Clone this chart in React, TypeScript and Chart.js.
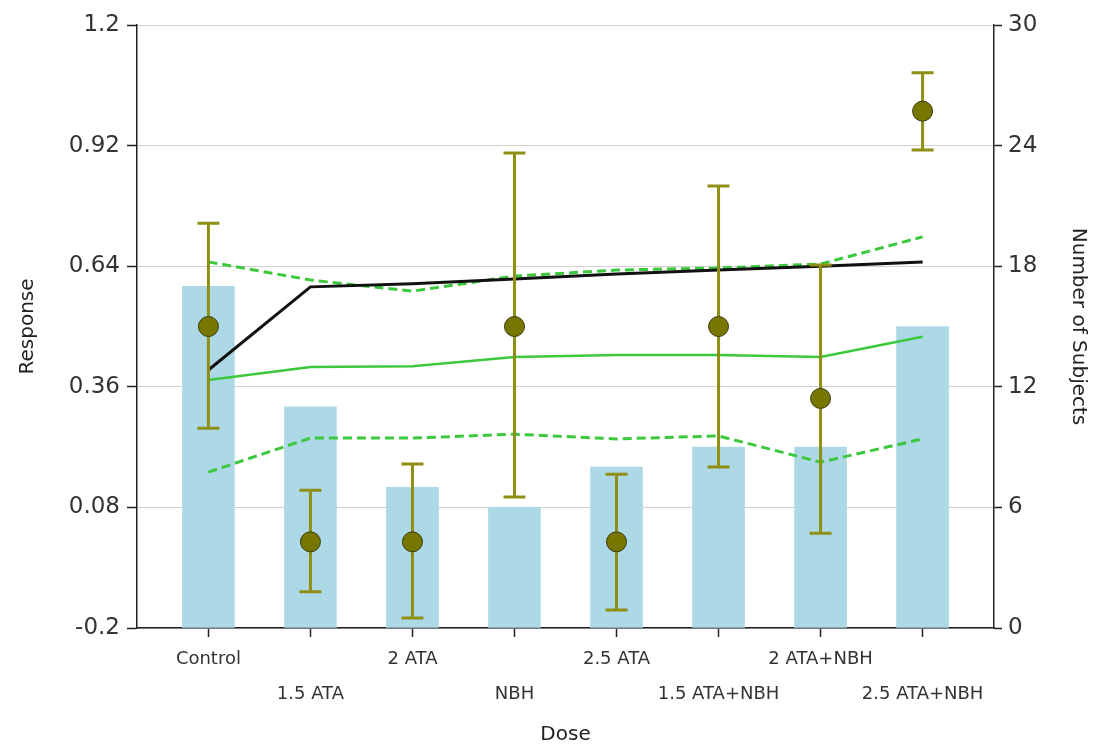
import React, { useEffect, useRef } from "react";
import { Chart, registerables } from "chart.js";

Chart.register(...registerables);

const categories = ["Control", "1.5 ATA", "2 ATA", "NBH", "2.5 ATA", "1.5 ATA+NBH", "2 ATA+NBH", "2.5 ATA+NBH"];
const subjects = [17, 11, 7, 6, 8, 9, 9, 15];
const response = [0.5, 0.0, 0.0, 0.5, 0.0, 0.5, 0.333, 1.0];
const errHigh = [0.74, 0.12, 0.181, 0.903, 0.157, 0.826, 0.643, 1.089];
const errLow = [0.264, -0.116, -0.177, 0.104, -0.158, 0.174, 0.02, 0.91];
const fitLine = [0.399, 0.592, 0.599, 0.61, 0.622, 0.631, 0.64, 0.65];
const greenMid = [0.376, 0.406, 0.408, 0.429, 0.434, 0.434, 0.429, 0.476];
const greenUpper = [0.65, 0.608, 0.582, 0.617, 0.631, 0.636, 0.645, 0.708];
const greenLower = [0.162, 0.241, 0.241, 0.25, 0.239, 0.246, 0.185, 0.239];
const leftTicks = [-0.2, 0.08, 0.36, 0.64, 0.92, 1.2];
const rightTicks = [0, 6, 12, 18, 24, 30];

const FONT = "'DejaVu Sans', Verdana, sans-serif";

const toXY = (arr: number[]) => arr.map((v, i) => ({ x: i, y: v }));

const errorBarPlugin = {
  id: "errorBars",
  beforeDatasetDraw(chart: any, args: any) {
    const ds = chart.data.datasets[args.index];
    if (!ds || ds.label !== "Response") return;
    const ctx = chart.ctx;
    const xs = chart.scales.x;
    const ys = chart.scales.y;
    ctx.save();
    ctx.strokeStyle = "#8f8f14";
    ctx.lineWidth = 3;
    const cap = 11;
    for (let i = 0; i < categories.length; i++) {
      const px = xs.getPixelForValue(i);
      const top = ys.getPixelForValue(errHigh[i]);
      const bot = ys.getPixelForValue(errLow[i]);
      ctx.beginPath();
      ctx.moveTo(px, top);
      ctx.lineTo(px, bot);
      ctx.moveTo(px - cap, top);
      ctx.lineTo(px + cap, top);
      ctx.moveTo(px - cap, bot);
      ctx.lineTo(px + cap, bot);
      ctx.stroke();
    }
    ctx.restore();
  },
};

export default function App() {
  const ref = useRef<HTMLCanvasElement | null>(null);

  useEffect(() => {
    if (!ref.current) return;
    const chart = new Chart(ref.current, {
      type: "bar",
      plugins: [errorBarPlugin],
      data: {
        datasets: [
          {
            type: "line",
            label: "Response",
            data: toXY(response),
            showLine: false,
            pointRadius: 10,
            pointBackgroundColor: "#777700",
            pointBorderColor: "#3a3a10",
            pointBorderWidth: 1,
            yAxisID: "y",
            order: 1,
          } as any,
          {
            type: "line",
            label: "Fit",
            data: toXY(fitLine),
            borderColor: "#111111",
            borderWidth: 3,
            pointRadius: 0,
            tension: 0,
            yAxisID: "y",
            order: 3,
          },
          {
            type: "line",
            label: "Mid",
            data: toXY(greenMid),
            borderColor: "#3cc83c",
            borderWidth: 2.5,
            pointRadius: 0,
            tension: 0,
            yAxisID: "y",
            order: 4,
          },
          {
            type: "line",
            label: "Upper",
            data: toXY(greenUpper),
            borderColor: "#3cc83c",
            borderWidth: 3,
            borderDash: [9, 5],
            pointRadius: 0,
            tension: 0,
            yAxisID: "y",
            order: 4,
          },
          {
            type: "line",
            label: "Lower",
            data: toXY(greenLower),
            borderColor: "#3cc83c",
            borderWidth: 3,
            borderDash: [9, 5],
            pointRadius: 0,
            tension: 0,
            yAxisID: "y",
            order: 4,
          },
          {
            type: "bar",
            label: "Subjects",
            data: toXY(subjects),
            backgroundColor: "#add8e6",
            barThickness: 52,
            yAxisID: "y2",
            order: 10,
          },
        ],
      },
      options: {
        animation: false,
        responsive: false,
        maintainAspectRatio: false,
        layout: { padding: { top: 25, left: 0, right: 0, bottom: 0 } },
        plugins: {
          legend: { display: false },
          tooltip: { enabled: false },
        },
        scales: {
          x: {
            type: "linear",
            min: -0.7,
            max: 7.7,
            offset: false,
            afterBuildTicks: (s: any) => {
              s.ticks = categories.map((_, i) => ({ value: i }));
            },
            afterFit: (s: any) => {
              s.height = 119;
            },
            border: { display: true, color: "#222", width: 1.5 },
            grid: {
              offset: false,
              drawOnChartArea: false,
              drawTicks: true,
              tickLength: 9,
              tickColor: "#222",
              tickWidth: 1.5,
            },
            ticks: {
              autoSkip: false,
              maxRotation: 0,
              minRotation: 0,
              padding: 5,
              color: "#333",
              font: { family: FONT, size: 18, lineHeight: "35px" } as any,
              callback: (v: any) => {
                const i = Math.round(Number(v));
                const name = categories[i] ?? "";
                return i % 2 === 0 ? name : ["", name];
              },
            },
            title: {
              display: true,
              text: "Dose",
              color: "#222",
              font: { family: FONT, size: 20 },
              padding: { top: 0, bottom: 0 },
            },
          } as any,
          y: {
            type: "linear",
            position: "left",
            min: -0.2,
            max: 1.2,
            afterBuildTicks: (s: any) => {
              s.ticks = leftTicks.map((v) => ({ value: v }));
            },
            afterFit: (s: any) => {
              s.width = 137;
            },
            border: { display: true, color: "#222", width: 1.5 },
            grid: {
              color: "#d0d0d0",
              lineWidth: 1,
              drawTicks: true,
              tickLength: 10,
              tickColor: "#222",
              tickWidth: 1.5,
            },
            ticks: {
              padding: 7,
              color: "#333",
              font: { family: FONT, size: 23 },
              callback: (v: any) => String(Number(Number(v).toFixed(2))),
            },
            title: {
              display: true,
              text: "Response",
              color: "#222",
              font: { family: FONT, size: 20 },
              padding: { top: 16, bottom: 0 },
            },
          } as any,
          y2: {
            type: "linear",
            position: "right",
            min: 0,
            max: 30,
            afterBuildTicks: (s: any) => {
              s.ticks = rightTicks.map((v) => ({ value: v }));
            },
            afterFit: (s: any) => {
              s.width = 100;
            },
            border: { display: true, color: "#222", width: 1.5 },
            grid: {
              drawOnChartArea: false,
              drawTicks: true,
              tickLength: 8,
              tickColor: "#222",
              tickWidth: 1.5,
            },
            ticks: {
              padding: 6,
              color: "#333",
              font: { family: FONT, size: 23 },
            },
            title: {
              display: true,
              text: "Number of Subjects",
              color: "#222",
              font: { family: FONT, size: 20 },
              padding: { top: 4, bottom: 0 },
            },
          } as any,
        },
      },
    });
    return () => chart.destroy();
  }, []);

  return (
    <div style={{ position: "fixed", left: 0, top: 0, width: 1094, height: 747, background: "#fff" }}>
      <canvas ref={ref} width={1094} height={747} style={{ width: 1094, height: 747 }} />
    </div>
  );
}
